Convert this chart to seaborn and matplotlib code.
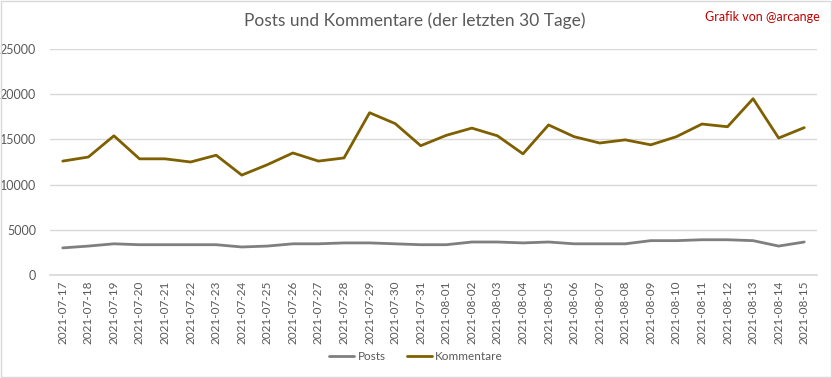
import matplotlib
matplotlib.use("Agg")
import matplotlib.pyplot as plt
import matplotlib.patches as mpatches
import seaborn as sns
import pandas as pd

dates = ["2021-07-17", "2021-07-18", "2021-07-19", "2021-07-20", "2021-07-21",
         "2021-07-22", "2021-07-23", "2021-07-24", "2021-07-25", "2021-07-26",
         "2021-07-27", "2021-07-28", "2021-07-29", "2021-07-30", "2021-07-31",
         "2021-08-01", "2021-08-02", "2021-08-03", "2021-08-04", "2021-08-05",
         "2021-08-06", "2021-08-07", "2021-08-08", "2021-08-09", "2021-08-10",
         "2021-08-11", "2021-08-12", "2021-08-13", "2021-08-14", "2021-08-15"]
posts = [3000, 3200, 3450, 3350, 3350, 3350, 3350, 3100, 3200, 3450,
         3450, 3550, 3550, 3450, 3350, 3350, 3650, 3650, 3550, 3650,
         3450, 3450, 3450, 3800, 3800, 3900, 3900, 3800, 3200, 3650]
kommentare = [12600, 13050, 15400, 12850, 12850, 12500, 13250, 11050, 12200, 13500,
              12600, 12950, 17950, 16750, 14300, 15450, 16250, 15400, 13400, 16600,
              15300, 14600, 14950, 14400, 15300, 16700, 16400, 19500, 15150, 16300]
series_names = ["Posts", "Kommentare"]
colors = ["#7f7f7f", "#7f6000"]

sns.set_theme(style="white")
plt.rcParams["font.family"] = ["Lato", "DejaVu Sans"]

idx = list(range(len(dates)))
df = pd.concat([
    pd.DataFrame({"pos": idx, "date": dates, "value": posts, "series": series_names[0]}),
    pd.DataFrame({"pos": idx, "date": dates, "value": kommentare, "series": series_names[1]}),
])

fig = plt.figure(figsize=(8.32, 3.78), dpi=100)
ax = fig.add_axes([50 / 832, 1 - 275 / 378, (817 - 50) / 832, (275 - 49) / 378])

sns.lineplot(data=df, x="pos", y="value", hue="series", hue_order=series_names,
             palette=colors, linewidth=2.0, ax=ax, legend=False)

ax.set_xlim(-0.5, len(dates) - 0.5)
ax.set_ylim(0, 25000)
ax.set_yticks(range(0, 25001, 5000))
ax.set_yticklabels([str(v) for v in range(0, 25001, 5000)], fontsize=9, color="#595959")
ax.set_xticks(idx)
ax.set_xticklabels(dates, rotation=90, fontsize=8.5, color="#595959")
ax.tick_params(axis="both", length=0, pad=4)
ax.tick_params(axis="y", pad=10)
ax.grid(axis="y", color="#d9d9d9", linewidth=1)
ax.set_axisbelow(True)
for s in ["top", "right", "left"]:
    ax.spines[s].set_visible(False)
ax.spines["bottom"].set_color("#d9d9d9")
ax.set_xlabel("")
ax.set_ylabel("")

fig.text(415 / 832, 1 - 21 / 378, "Posts und Kommentare (der letzten 30 Tage)",
         ha="center", va="center", fontsize=12.5, color="#595959")
fig.text(820 / 832, 1 - 17 / 378, "Grafik von @arcange",
         ha="right", va="center", fontsize=9, color="#c00000")

handles = [plt.Line2D([0], [0], color=c, lw=2.0) for c in colors]
fig.legend(handles, series_names, loc="center", bbox_to_anchor=(416 / 832, 1 - 357 / 378),
           ncol=2, frameon=False, fontsize=8.5, labelcolor="#595959",
           handlelength=2.1, columnspacing=1.8, handletextpad=0.3)

fig.patches.append(mpatches.Rectangle((0.001, 0.002), 0.998, 0.996, transform=fig.transFigure,
                                      fill=False, edgecolor="#d9d9d9", linewidth=1))

fig.savefig("out.png", dpi=100)
